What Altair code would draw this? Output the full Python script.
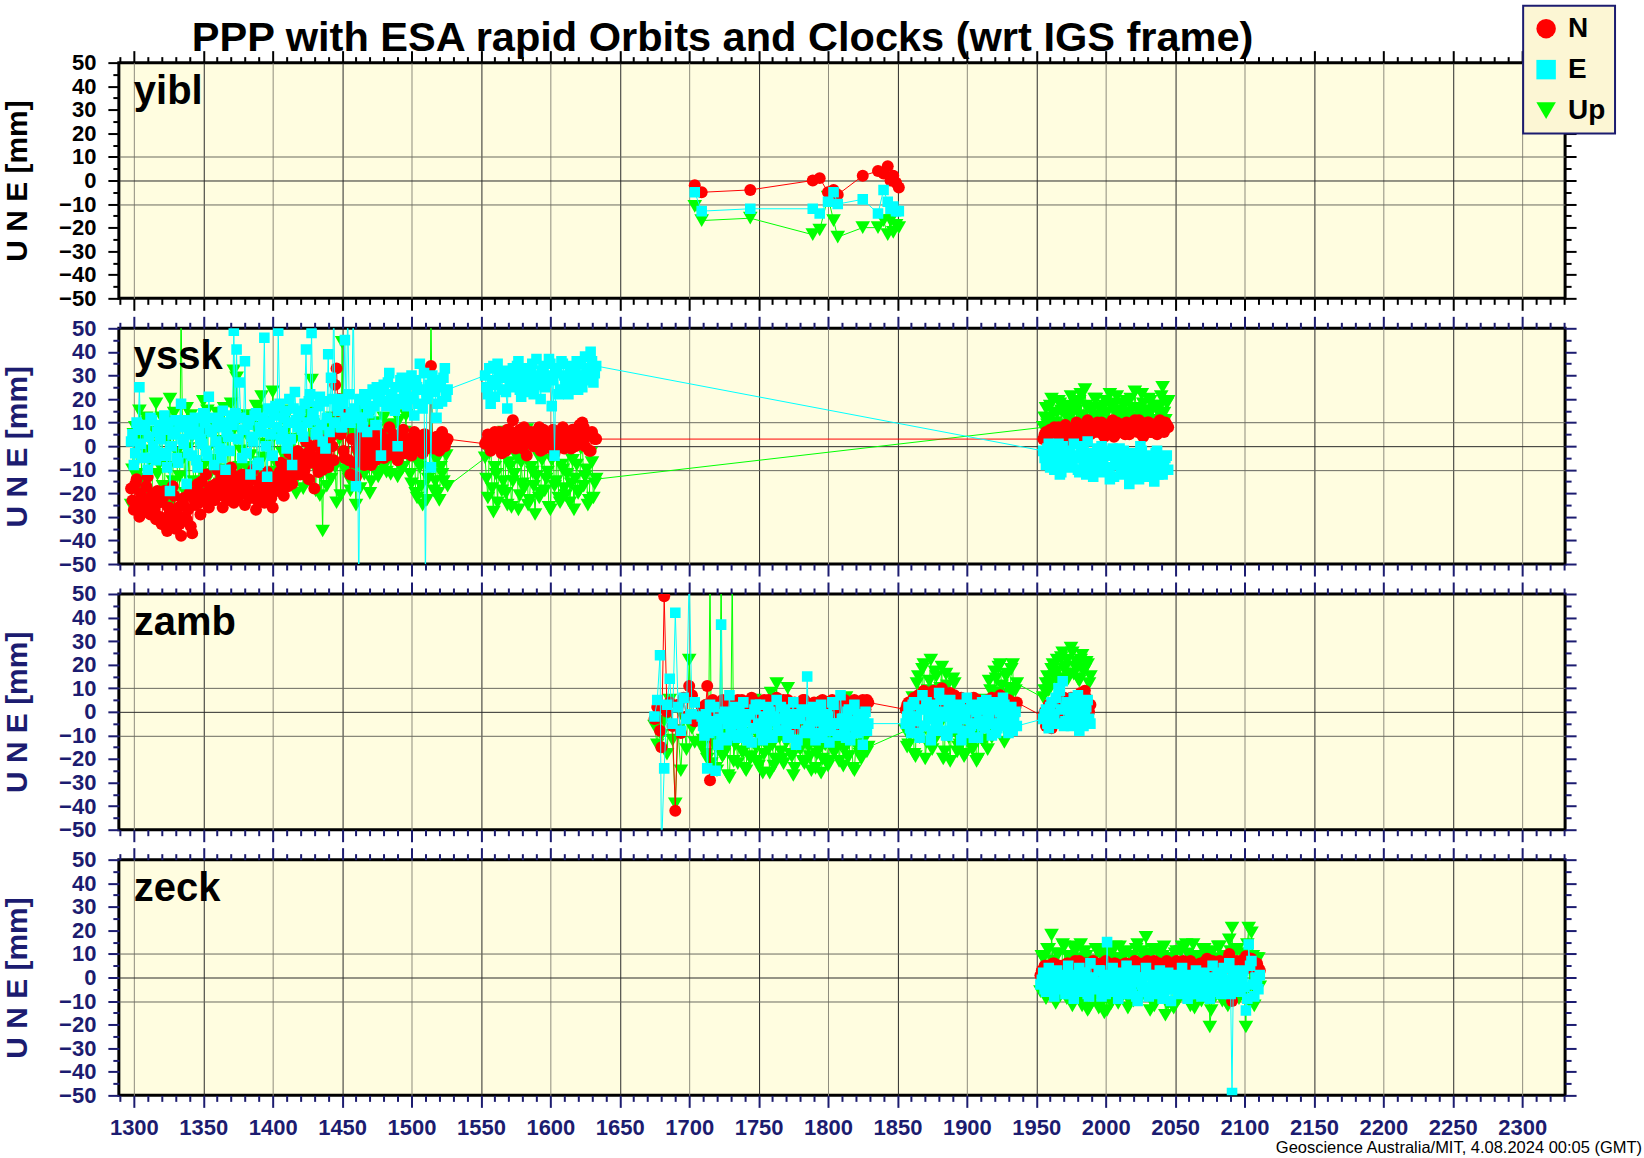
import altair as alt
import pandas as pd

# ---------------- data ----------------
components = ["N", "E", "Up"]
colors = ["#ff0000", "#00ffff", "#00ff00"]
shapes = ["circle", "square", "triangle-down"]
sizes = {"N": 144, "E": 112, "Up": 215}
x_ticks = list(range(1290, 2331, 10))
y_ticks = list(range(-50, 51, 5))
x_domain = [1289.2, 2330.9]
y_domain = [-50, 50]

# ---- yibl ----
yibl_t = [1704, 1709, 1744, 1789, 1794, 1800, 1804, 1807, 1825, 1836, 1840, 1843, 1845, 1847, 1849, 1851]
yibl_n = [-2, -5, -4, 0, 1, -5, -4, -6, 2, 4, 3, 6, 0, 2, -1, -3]
yibl_e = [-5, -13, -12, -12, -14, -9, -5, -10, -8, -14, -4, -9, -12, -11, -13, -13]
yibl_u = [-11, -17, -16, -23, -21, -7, -17, -24, -20, -20, -17, -23, -17, -22, -19, -20]

# ---- yssk: even-day epochs ----
yssk_t1 = [1298, 1300, 1302, 1304, 1306, 1308, 1310, 1312, 1314, 1316,
           1318, 1320, 1322, 1324, 1326, 1328, 1330, 1332, 1334, 1336,
           1338, 1340, 1342, 1344, 1346, 1348, 1350, 1352, 1354, 1356,
           1358, 1360, 1362, 1364, 1366, 1368, 1370, 1372, 1374, 1376,
           1378, 1380, 1382, 1384, 1386, 1388, 1390, 1392, 1394, 1396,
           1398, 1400, 1402, 1404, 1406, 1408, 1410, 1412, 1414, 1416,
           1418, 1420, 1422, 1424, 1426, 1428, 1430, 1432, 1434, 1436,
           1438, 1440, 1442, 1444, 1446, 1448, 1450, 1452, 1454, 1456,
           1458, 1460, 1462, 1464, 1466, 1468, 1470, 1472, 1474, 1476,
           1478, 1480, 1482, 1484, 1486, 1488, 1490, 1492, 1494, 1496,
           1498, 1500, 1502, 1504, 1506, 1508, 1510, 1512, 1514, 1516,
           1518, 1520, 1522, 1524, 1526,
           1553, 1555, 1557, 1559, 1561, 1563, 1565, 1567, 1569, 1571,
           1573, 1575, 1577, 1579, 1581, 1583, 1585, 1587, 1589, 1591,
           1593, 1595, 1597, 1599, 1601, 1603, 1605, 1607, 1609, 1611,
           1613, 1615, 1617, 1619, 1621, 1623, 1625, 1627, 1629, 1631,
           1633,
           1955, 1957, 1959, 1961, 1963, 1965, 1967, 1969, 1971, 1973,
           1975, 1977, 1979, 1981, 1983, 1985, 1987, 1989, 1991, 1993,
           1995, 1997, 1999, 2001, 2003, 2005, 2007, 2009, 2011, 2013,
           2015, 2017, 2019, 2021, 2023, 2025, 2027, 2029, 2031, 2033,
           2035, 2037, 2039, 2041, 2043, 2045]
yssk_n1 = [-18, -27, -14, -30, -22, -25, -13, -29, -20, -31,
           -24, -33, -19, -36, -28, -17, -35, -26, -38, -22,
           -31, -20, -37, -25, -16, -29, -21, -12, -26, -17,
           -23, -10, -19, -26, -14, -21, -9, -24, -16, -20,
           -12, -25, -17, -22, -10, -27, -15, -20, -24, -11,
           -19, -26, -13, -17, -7, -21, -12, -3, -16, -9,
           -2, -12, -6, 2, -14, -4, -18, -8, 3, -10,
           -1, -9, 4, -6, 33, 20, 8, -5, 14, -12,
           3, -13, -2, 6, -8, 1, -4, 7, -6, 2,
           5, -5, 1, 8, -3, 4, -6, 2, 7, -2,
           3, -4, 6, 0, 4, -3, 5, 1, 34, -1,
           4, -2, 6, 0, 3,
           1, 5, -2, 4, 0, 6, -3, 3, 7, 2,
           11, -1, 5, 2, 8, -4, 4, 1, 6, 3,
           -2, 7, 4, 0, 5, -3, 6, 2, 8, 1,
           4, -1, 6, 3, 9, 10, 0, 5, -2, 4,
           3,
           3, 6, 1, 5, 8, 2, 6, 4, 9, 3,
           7, 5, 10, 4, 8, 6, 11, 5, 7, 9,
           6, 10, 4, 8, 7, 11, 5, 9, 6, 8,
           10, 5, 7, 11, 6, 9, 4, 8, 10, 6,
           9, 5, 11, 7, 10, 8]
yssk_e1 = [2, -8, 10, 25, -5, 7, -10, 12, 0, -6,
           9, -3, 13, -9, -19, 5, 11, -7, 18, 1,
           -16, 8, -4, 12, -9, 3, 14, -2, 21, 6,
           -8, 11, -1, 15, -10, 4, 13, 49, 41, 27,
           -5, 36, 9, -12, 2, 14, -7, 6, 46, -13,
           10, -4, 17, 49, 3, 12, -1, 20, -8, 23,
           8, 15, 4, 41, 19, 48, 11, 6, 21, 2,
           -1, 39, 29, 62, 17, 20, 8, 45, 58, 10,
           62, -17, -64, 12, 22, 6, 16, 24, 9, 19,
           -4, 26, 17, 31, 21, 15, 0, 28, 18, 24,
           20, 30, 13, 25, 35, 16, -60, 22, -9, 28,
           12, 27, 19, 33, 24,
           30, 22, 18, 34, 26, 31, 24, 29, 16, 27,
           33, 25, 36, 21, 28, 32, 23, 35, 26, 30,
           20, 34, 27, 37, 17, -4, 31, 24, 35, 28,
           22, 33, 26, 36, 29, 25, 38, 32, 40, 27,
           34,
           -2, -8, 1, -6, -10, -3, -12, 0, -7, -4,
           -9, 1, -5, -11, -2, -8, 2, -6, -13, -3,
           -7, 0, -10, -4, -14, -1, -8, -5, -12, -2,
           -9, -16, -3, -7, -11, 0, -6, -13, -4, -9,
           -15, -2, -8, -12, -5, -10]
yssk_u1 = [-25, 5, -12, 15, -20, -2, 10, -28, 0, 18,
           -8, 12, -22, 3, 20, -15, 7, -27, 60, -5,
           16, -18, 4, -24, 9, -10, 19, -3, -21, 11,
           -6, 14, -16, 2, -12, 8, 18, 32, 29, -9,
           5, -19, 13, -4, -14, 17, -7, 21, 1, -17,
           10, 23, -11, 6, -20, 12, -6, 15, -15, 3,
           -13, 9, -18, 1, 14, 28, -9, 4, -21, -36,
           -8, 7, -14, 11, -24, 3, 44, -10, 13, -19,
           6, -25, -5, 15, -12, 8, -20, 2, 10, -13,
           -7, 12, -11, 4, -2, 9, -13, 1, -9, 13,
           -5, -16, 3, -22, -9, -25, 0, -14, 60, -19,
           -6, -23, -12, 2, -17,
           -5, -22, 4, -28, -12, -2, -19, 6, -25, -9,
           -15, 2, -27, -7, -18, 7, -23, -11, -29, -4,
           -20, 3, -14, -26, -6, -17, 5, -24, -10, -21,
           0, -16, -27, -8, -19, 4, -13, -25, -3, -22,
           -14,
           8, 16, 11, 20, 6, 14, 18, 9, 13, 17,
           21, 10, 15, 19, 12, 24, 8, 16, 13, 20,
           11, -7, 17, 14, 22, 9, 18, 13, 15, 10,
           19, 12, 16, 23, 8, 14, 18, 11, 20, 15,
           9, 17, 13, 25, 11, 19]

# ---- yssk: odd-day epochs ----
yssk_t2 = [1299, 1301, 1303, 1305, 1307, 1309, 1311, 1313, 1315, 1317,
           1319, 1321, 1323, 1325, 1327, 1329, 1331, 1333, 1335, 1337,
           1339, 1341, 1343, 1345, 1347, 1349, 1351, 1353, 1355, 1357,
           1359, 1361, 1363, 1365, 1367, 1369, 1371, 1373, 1375, 1377,
           1379, 1381, 1383, 1385, 1387, 1389, 1391, 1393, 1395, 1397,
           1399, 1401, 1403, 1405, 1407, 1409, 1411, 1413, 1415, 1417,
           1419, 1421, 1423, 1425, 1427, 1429, 1431, 1433, 1435, 1437,
           1439, 1441, 1443, 1445, 1447, 1449, 1451, 1453, 1455, 1457,
           1459, 1461, 1463, 1465, 1467, 1469, 1471, 1473, 1475, 1477,
           1479, 1481, 1483, 1485, 1487, 1489, 1491, 1493, 1495, 1497,
           1499, 1501, 1503, 1505, 1507, 1509, 1511, 1513, 1515, 1517,
           1519, 1521, 1523, 1525,
           1554, 1556, 1558, 1560, 1562, 1564, 1566, 1568, 1570, 1572,
           1574, 1576, 1578, 1580, 1582, 1584, 1586, 1588, 1590, 1592,
           1594, 1596, 1598, 1600, 1602, 1604, 1606, 1608, 1610, 1612,
           1614, 1616, 1618, 1620, 1622, 1624, 1626, 1628, 1630, 1632,
           1956, 1958, 1960, 1962, 1964, 1966, 1968, 1970, 1972, 1974,
           1976, 1978, 1980, 1982, 1984, 1986, 1988, 1990, 1992, 1994,
           1996, 1998, 2000, 2002, 2004, 2006, 2008, 2010, 2012, 2014,
           2016, 2018, 2020, 2022, 2024, 2026, 2028, 2030, 2032, 2034,
           2036, 2038, 2040, 2042, 2044]
yssk_n2 = [-23, -16, -26, -20, -28, -17, -24, -21, -27, -19,
           -30, -22, -34, -26, -31, -21, -29, -33, -24, -30,
           -27, -34, -22, -19, -24, -15, -20, -23, -18, -22,
           -16, -21, -13, -18, -23, -17, -20, -13, -22, -18,
           -20, -15, -21, -14, -19, -23, -18, -13, -17, -21,
           -22, -15, -19, -11, -14, -8, -17, -10, -6, -12,
           -8, -4, -10, -3, -7, 0, -5, -11, -2, -6,
           -4, -7, 0, 26, 15, 5, -2, 10, -6, 3,
           -7, -1, -5, 2, -3, 4, -8, 0, -3, 5,
           -1, 3, -4, 2, 5, -2, 1, 4, -3, 0,
           1, 4, -2, 3, 0, 5, -1, 2, 0, 3,
           1, -1, 4, 2,
           2, 4, -1, 6, 3, 1, 5, -2, 4, 6,
           0, 3, 7, -1, 5, 2, 6, 0, 3, 8,
           2, -1, 5, 3, 7, 1, 4, 6, -1, 5,
           3, 7, 0, 5, 2, 8, 4, -2, 6, 3,
           5, 2, 7, 4, 3, 8, 5, 7, 2, 6,
           4, 8, 6, 3, 9, 7, 5, 8, 6, 10,
           7, 5, 9, 6, 8, 4, 10, 7, 9, 5,
           8, 6, 9, 7, 11, 5, 8, 10, 6, 9,
           7, 10, 8, 6, 9]
yssk_e2 = [5, -3, 7, 1, 9, -5, 4, 11, -2, 6,
           3, 7, -4, 10, 0, 6, -5, 8, 3, 11,
           -3, 5, 9, -6, 6, 1, 10, -4, 7, 12,
           2, 8, -5, 10, 6, -2, 9, 14, 3, 12,
           7, -3, 11, 4, 13, -8, 8, 12, 0, 16,
           5, 13, 8, 18, 6, 15, 10, 3, 16, 11,
           13, 7, 18, 10, 22, 14, 5, 17, 9, 19,
           12, 6, 20, 10, 15, 8, 18, 12, 22, 14,
           16, 12, 20, 8, 18, 14, 22, 17, 25, 20,
           24, 19, 27, 22, 18, 25, 20, 29, 23, 17,
           26, 21, 28, 18, 24, 31, 20, 26, 30, 23,
           18, 25, 29, 21,
           25, 33, 28, 21, 35, 29, 32, 23, 31, 26,
           29, 34, 24, 30, 33, 27, 31, 22, 37, 29,
           32, 25, 30, 35, 28, 33, 22, 36, 30, 26,
           34, 29, 31, 24, 35, 30, 33, 28, 36, 31,
           -5, -1, -9, -3, -7, 1, -11, -4, -6, -2,
           -8, -4, -10, 0, -6, -12, -3, -9, -5, -1,
           -11, -6, -2, -9, -4, -13, -7, -1, -10, -5,
           -3, -12, -8, -6, -14, -2, -9, -5, -11, -7,
           -3, -12, -6, -9, -4]
yssk_u2 = [-10, 8, -18, 2, -14, 12, -6, -22, 6, -12,
           4, -17, 10, -9, -24, 14, -3, -13, 9, -20,
           -1, 13, -15, 7, -19, 2, -8, 15, -12, 5,
           -18, 9, -4, 16, -10, -22, 6, -13, 11, -2,
           12, -9, 3, -20, 8, -12, 15, -5, -16, 10,
           -14, 4, -8, 13, -3, -18, 8, -11, 2, -20,
           6, -4, 11, -15, -7, 9, -19, 3, -12, 7,
           -17, 2, 12, -9, 6, -21, -3, 9, -14, 4,
           -10, 10, -18, 1, -8, 12, -15, -4, 7, -11,
           5, -8, 9, -12, 3, -6, 11, -10, 6, -4,
           -12, 1, -20, -7, -17, -3, -23, -10, 2, -15,
           -20, -9, -15, -4,
           -14, -3, -18, -9, -24, -1, -15, -20, -7, -26,
           -12, -5, -21, -16, -2, -25, -9, -17, -13, -22,
           -6, -19, -11, -27, -4, -15, -22, -8, -18, -12,
           -24, -6, -14, -20, -1, -17, -10, -23, -7, -16,
           12, 9, 17, 14, 10, 19, 15, 7, 16, 12,
           14, 18, 9, 22, 13, 17, 11, 15, 20, 12,
           16, 14, 19, 10, 17, 15, 21, 13, 18, 11,
           14, 20, 12, 16, 10, 22, 15, 13, 19, 17,
           11, 16, 21, 14, 18]

# ---- zamb: first pass ----
zamb_t1 = [1675, 1677, 1679, 1680, 1682, 1684, 1686, 1688, 1690, 1692, 1694, 1696, 1698, 1700, 1702, 1704,
           1709, 1711, 1713, 1715, 1717, 1719, 1721, 1723, 1725, 1727,
           1729, 1731, 1733, 1735, 1737, 1739, 1741, 1743, 1745, 1747,
           1749, 1751, 1753, 1755, 1757, 1759, 1761, 1763, 1765, 1767,
           1769, 1771, 1773, 1775, 1777, 1779, 1781, 1783, 1785, 1787,
           1789, 1791, 1793, 1795, 1797, 1799, 1801, 1803, 1805, 1807,
           1809, 1811, 1813, 1815, 1817, 1819, 1821, 1823, 1825, 1827, 1829,
           1856, 1858, 1860, 1862, 1864, 1866, 1868, 1870, 1872, 1874,
           1876, 1878, 1880, 1882, 1884, 1886, 1888, 1890, 1892, 1894,
           1896, 1898, 1900, 1902, 1904, 1906, 1908, 1910, 1912, 1914,
           1916, 1918, 1920, 1922, 1924, 1926, 1928, 1930, 1932, 1934,
           1936,
           1955, 1957, 1959, 1961, 1963, 1965, 1967, 1969, 1971, 1973,
           1975, 1977, 1979, 1981, 1983, 1985, 1987, 1989]
zamb_n1 = [-3, 2, -8, -15, 49, 0, 4, -6, -42, 3, -9, 6, -2, 11, 7, -4,
           2, -4, 11, -29, 5, 1, -6, 4, -2, 3,
           -5, 2, -1, 5, -7, 0, 4, -3, 6, -6,
           1, -4, 3, -8, 5, -2, 2, 6, -5, 0,
           4, 5, -3, 1, -7, 3, -1, 5, -4, 2,
           -6, 0, 4, 1, -5, 3, -2, 5, -7, 1,
           4, -3, 2, -6, 0, 5, -4, 3, 5, 1, 4,
           1, 4, -3, 6, 2, -6, 5, 8, 3, -2,
           9, 6, 4, 10, 7, -1, 8, 3, 5, -4,
           6, 2, -8, 4, 1, -3, 5, 0, 3, -5,
           2, 6, -2, 4, 7, 1, -3, 5, 2, -1,
           4,
           -2, -6, 3, -7, 1, -4, 5, 0, -3, 2,
           6, -1, 4, 7, 2, 9, -2, 3]
zamb_e1 = [-2, 5, 24, -60, -24, 3, 14, -5, 42, 2, -8, 6, -3, 60, -1, 4,
           -2, -10, -24, 3, -8, -25, -14, 37, -1, -12,
           7, -5, 2, -11, -3, 4, -9, -1, -13, 1,
           -7, 3, -12, -4, 2, -10, -2, 5, -8, -3,
           1, -11, -5, 4, -14, -2, 0, -9, 15, -6,
           2, -12, -4, 3, -8, -1, -13, 4, -5, -10,
           7, -3, -11, 1, -6, 3, -9, -2, -14, 0, -5,
           -5, 2, -9, 4, -2, -11, 7, -6, 1, -12,
           3, -4, 8, -8, 0, -10, 5, -3, -7, 2,
           -12, -1, 6, -9, 3, -5, -11, 1, -6, 5,
           -2, -10, 4, -7, 0, 6, -4, -9, 2, -3,
           -6,
           -3, 1, -7, 4, -1, -5, 9, 13, -4, 2,
           -6, 6, 0, -8, 3, -2, 5, -5]
zamb_u1 = [-6, -14, 2, -10, -4, -18, 5, -12, -39, -8, -25, -3, -16, 22, -7, -13,
           -15, -8, -20, 60, -12, -24, -5, 60, -18, -10,
           -28, 60, -14, -22, 2, -17, -25, -9, -19, 5,
           -21, -12, -26, -6, -16, 8, -23, 12, -11, -20,
           -4, 10, -18, -27, -8, -15, 3, -22, -13, -19,
           -7, -24, -16, -26, 4, -12, -21, -9, -17, -3,
           -14, -23, 6, -19, -10, -25, -6, -18, -11, 2, -15,
           -8, -14, -4, -18, 12, -11, 18, -20, 9, 22,
           -13, 15, -6, 19, -17, 11, -21, 14, -9, -15,
           -5, -19, -12, 3, -16, -8, -20, -3, -13, -7,
           13, -11, 17, 8, 20, -4, 15, 10, 18, -2,
           12,
           6, 12, 9, 18, 15, 22, 11, 25, 19, 14,
           27, 16, 21, 13, 24, 18, 20, 15]

# ---- zamb: second pass ----
zamb_t2 = [1710, 1712, 1714, 1716, 1718, 1720, 1722, 1724, 1726, 1728,
           1730, 1732, 1734, 1736, 1738, 1740, 1742, 1744, 1746, 1748,
           1750, 1752, 1754, 1756, 1758, 1760, 1762, 1764, 1766, 1768,
           1770, 1772, 1774, 1776, 1778, 1780, 1782, 1784, 1786, 1788,
           1790, 1792, 1794, 1796, 1798, 1800, 1802, 1804, 1806, 1808,
           1810, 1812, 1814, 1816, 1818, 1820, 1822, 1824, 1826, 1828,
           1857, 1859, 1861, 1863, 1865, 1867, 1869, 1871, 1873, 1875,
           1877, 1879, 1881, 1883, 1885, 1887, 1889, 1891, 1893, 1895,
           1897, 1899, 1901, 1903, 1905, 1907, 1909, 1911, 1913, 1915,
           1917, 1919, 1921, 1923, 1925, 1927, 1929, 1931, 1933, 1935,
           1956, 1958, 1960, 1962, 1964, 1966, 1968, 1970, 1972, 1974,
           1976, 1978, 1980, 1982, 1984, 1986, 1988]
zamb_n2 = [0, 3, -2, 4, 1, -3, 2, 5, -1, 3,
           0, 4, -2, 2, 5, 1, -3, 3, 0, 4,
           2, -1, 5, 1, 3, -2, 4, 0, 2, 5,
           -1, 3, 1, 4, -2, 2, 5, 0, 3, 1,
           4, -1, 2, 5, 0, 3, 1, -2, 4, 2,
           0, 5, 1, 3, -1, 4, 2, 0, 3, 5,
           3, 0, 5, 2, 7, 4, 9, 6, 1, 8,
           5, 3, 8, 2, 6, 4, 0, 7, 3, -2,
           5, 1, 4, -1, 6, 2, -4, 3, 1, 5,
           -1, 4, 2, 6, 0, 3, 5, 1, 4, 2,
           0, -5, 2, -3, 4, -1, 3, 6, -2, 4,
           1, 5, 2, 8, 3, 6, 0]
zamb_e2 = [-6, -1, -9, -4, 2, -7, -3, -11, 0, -5,
           -8, -2, -10, 1, -6, -4, -12, -1, -7, 3,
           -5, -9, -2, -6, 0, -11, -4, -8, 2, -3,
           -7, -10, -1, -5, -12, -3, 1, -8, -6, -2,
           -9, -4, 0, -11, -6, -2, -8, 3, -5, -10,
           -3, -7, 0, -12, -4, -9, -1, -6, -3, -8,
           -2, -7, 3, -4, -9, 1, -6, 4, -3, -8,
           0, -5, 5, -2, -10, 2, -6, -1, -4, 3,
           -8, -3, 1, -6, -11, 0, -4, 4, -7, -2,
           2, -5, -9, 1, -3, 3, -6, -1, -8, 0,
           -1, -5, 2, -3, 6, 10, 1, -6, 4, -2,
           3, -4, 7, 0, -6, 2, -3]
zamb_u2 = [-12, -18, -7, -22, -14, -25, -10, -19, -16, -27,
           -9, -21, -13, -4, -17, -24, -11, -20, -6, -15,
           -23, -12, -18, -8, -26, -14, -20, -10, -17, -22,
           -13, -7, -19, -24, -11, -16, -21, -9, -15, -25,
           -12, -18, -6, -20, -14, -23, -10, -17, -13, -21,
           -8, -16, -19, -11, -24, -14, -9, -20, -12, -17,
           -15, -10, 6, -19, 15, -7, 20, -13, 13, -16,
           17, -9, 10, -20, 16, -11, -5, 12, -17, -14,
           -8, -18, -3, -15, -10, -21, -6, -12, 5, -16,
           9, -8, 14, 19, 11, -13, 16, 7, 20, 9,
           9, 15, 12, 20, 17, 14, 23, 18, 22, 16,
           25, 19, 14, 22, 17, 21, 12]

# ---- zeck: first pass ----
zeck_t1 = [1953, 1955, 1957, 1959, 1961, 1963, 1965, 1967, 1969, 1971,
           1973, 1975, 1977, 1979, 1981, 1983, 1985, 1987, 1989, 1991,
           1993, 1995, 1997, 1999, 2001, 2003, 2005, 2007, 2009, 2011,
           2013, 2015, 2017, 2019, 2021, 2023, 2025, 2027, 2029, 2031,
           2033, 2035, 2037, 2039, 2041, 2043, 2045, 2047, 2049, 2051,
           2053, 2055, 2057, 2059, 2061, 2063, 2065, 2067, 2069, 2071,
           2073, 2075, 2077, 2079, 2081, 2083, 2085, 2087, 2089, 2091,
           2093, 2095, 2097, 2099, 2101, 2103, 2105, 2107, 2109, 2111]
zeck_n1 = [1, 3, 5, 2, 4, 6, 2, 5, 3, 4,
           6, 3, 5, 2, 7, 4, 6, 3, 5, 7,
           4, 2, 6, 3, 5, 1, 4, 6, 3, 5,
           2, 6, 4, 3, 7, 5, 2, 6, 4, 5,
           3, 7, 4, 6, 2, 5, 3, 6, 4, 7,
           5, 3, 6, 2, 7, 4, 5, 3, 6, 4,
           8, 5, 7, 3, 6, 4, 5, 7, 10, -10,
           6, 4, 7, 3, 9, 5, 8, 4, 6, 3]
zeck_e1 = [-3, 2, -6, 4, -1, -8, 3, -4, 1, -7,
           5, -2, -9, 0, 4, -5, 2, -7, 6, -1,
           -4, 3, -8, 1, 15, -6, 4, -3, -9, 2,
           -5, 5, -1, -7, 3, -10, 0, -4, 4, -8,
           1, -6, -2, 3, -9, -5, 2, -10, -3, 0,
           -7, 4, -4, -9, 1, -6, 3, -2, -8, 2,
           -5, -9, 5, -3, 1, -7, 4, -1, 6, -49,
           -4, 2, -6, 3, -14, 14, 7, -8, -3, 1]
zeck_u1 = [-6, 8, -9, 12, 18, -4, 10, -8, 14, -3,
           9, -10, 13, -5, 8, -12, 11, -14, 7, -6,
           12, -13, 9, -15, -14, 10, -8, 13, -11, 8,
           -7, 11, -10, 9, -5, 14, -9, 8, 17, -6,
           10, -12, 12, -8, 9, -16, -11, 8, -13, 11,
           -9, 13, -6, 10, -12, 14, -7, 9, -10, 12,
           -5, -21, 11, -8, 13, -6, 9, -11, 16, 21,
           -9, 12, -7, 10, -21, 21, 19, -12, 8, -4]

# ---- zeck: second pass ----
zeck_t2 = [1954, 1956, 1958, 1960, 1962, 1964, 1966, 1968, 1970, 1972,
           1974, 1976, 1978, 1980, 1982, 1984, 1986, 1988, 1990, 1992,
           1994, 1996, 1998, 2000, 2002, 2004, 2006, 2008, 2010, 2012,
           2014, 2016, 2018, 2020, 2022, 2024, 2026, 2028, 2030, 2032,
           2034, 2036, 2038, 2040, 2042, 2044, 2046, 2048, 2050, 2052,
           2054, 2056, 2058, 2060, 2062, 2064, 2066, 2068, 2070, 2072,
           2074, 2076, 2078, 2080, 2082, 2084, 2086, 2088, 2090, 2092,
           2094, 2096, 2098, 2100, 2102, 2104, 2106, 2108, 2110]
zeck_n2 = [3, 5, 2, 4, 6, 3, 5, 2, 4, 6,
           3, 5, 7, 4, 2, 5, 6, 4, 3, 5,
           6, 3, 5, 7, 2, 4, 6, 3, 5, 4,
           6, 3, 5, 2, 4, 6, 5, 3, 7, 4,
           5, 2, 6, 4, 3, 7, 5, 4, 6, 3,
           5, 7, 4, 6, 3, 5, 2, 6, 4, 7,
           3, 6, 5, 4, 7, 3, 6, 8, 5, 4,
           7, 5, 3, 6, 4, 8, 5, 6, 4]
zeck_e2 = [-1, -5, 1, -3, -6, 2, -2, -5, 0, -4,
           -7, 1, -3, -6, 2, -1, -4, -8, 0, -2,
           -5, 3, -3, -7, 0, -2, -6, 1, -4, -1,
           -7, 2, -5, -2, -8, 0, -3, -6, 1, -4,
           -2, -7, 0, -4, -8, -1, -5, 1, -3, -6,
           -2, -5, 0, -4, -7, -1, -3, -6, 1, -2,
           -5, -3, 0, -6, -2, 2, -4, -1, -7, 3,
           -2, -6, 0, -4, -9, 5, -3, 0, -5]
zeck_u2 = [9, -5, 12, -8, 7, -11, 10, -6, 13, -9,
           8, -12, 11, -4, 14, -10, 9, -13, 7, -8,
           11, -12, 10, -6, 12, -11, 8, -9, 13, -7,
           10, -13, 9, -10, 12, -8, 11, -5, 9, -14,
           12, -9, 10, -7, 13, -11, 8, -12, 10, -6,
           11, -8, 14, -10, 9, -13, 7, -9, 12, -6,
           10, -14, 8, -7, 13, -10, 9, -12, 11, -5,
           12, -9, 10, -7, 14, -11, 9, -6, 8]

stations = [
    ("yibl", [yibl_t], [yibl_n], [yibl_e], [yibl_u]),
    ("yssk", [yssk_t1, yssk_t2], [yssk_n1, yssk_n2], [yssk_e1, yssk_e2], [yssk_u1, yssk_u2]),
    ("zamb", [zamb_t1, zamb_t2], [zamb_n1, zamb_n2], [zamb_e1, zamb_e2], [zamb_u1, zamb_u2]),
    ("zeck", [zeck_t1, zeck_t2], [zeck_n1, zeck_n2], [zeck_e1, zeck_e2], [zeck_u1, zeck_u2]),
]

TITLE = "PPP with ESA rapid Orbits and Clocks (wrt IGS frame)"
FOOTER = "Geoscience Australia/MIT, 4.08.2024 00:05 (GMT)"
YTITLE = "U N E [mm]"

# ---------------- styling ----------------
W, H = 1448, 236
FONT = "Liberation Sans"
NAVY = "#1c1c70"
BG = "#fffde0"
col = dict(zip(components, colors))
shp = dict(zip(components, shapes))

major_x = "datum.value % 50 === 0"
major_y = "datum.value % 10 === 0"


def build(name, tl, nl, el, ul, idx):
    ink = "black" if idx == 0 else NAVY
    last = idx == 3
    frames = []
    for t, n, e, u in zip(tl, nl, el, ul):
        for arr in (n, e, u):
            assert len(arr) == len(t), (name, len(t), len(arr))
        for c, vals in (("Up", u), ("N", n), ("E", e)):
            frames.append(pd.DataFrame({"t": t, "v": vals, "comp": c}))
    df = pd.concat(frames, ignore_index=True)
    order = {"Up": 0, "N": 1, "E": 2}
    df["o"] = df["comp"].map(order)
    df = df.sort_values(["o", "t"], kind="stable").reset_index(drop=True)

    xs = alt.Scale(domain=x_domain, nice=False, zero=False)
    ys = alt.Scale(domain=y_domain, nice=False, zero=False)

    xaxis = alt.Axis(
        orient="bottom", values=x_ticks, title=None, domain=False,
        grid=True,
        gridColor={"condition": {"test": "datum.value % 100 === 0", "value": "#8e8c7c"}, "value": "#2a2a2a"},
        gridOpacity={"condition": {"test": major_x, "value": 1}, "value": 0},
        gridWidth=1,
        tickColor=ink, tickWidth=2,
        tickSize={"condition": {"test": major_x, "value": 12}, "value": 6},
        labels=last, labelExpr=f"{major_x} ? datum.label : ''", format="d",
        labelFont=FONT, labelFontSize=22, labelFontWeight="bold", labelColor=NAVY,
        labelPadding=10, labelOverlap=False, labelFlush=False, labelBound=False,
    )
    yaxis = alt.Axis(
        orient="left", values=y_ticks, domain=False,
        grid=True,
        gridColor={"condition": {"test": "datum.value === 0", "value": "#2a2a2a"}, "value": "#6a6a60"},
        gridOpacity={"condition": {"test": "datum.value === 0 || datum.value === 10 || datum.value === -10", "value": 1}, "value": 0},
        gridWidth=1,
        tickColor=ink, tickWidth=2,
        tickSize={"condition": {"test": major_y, "value": 11}, "value": 6},
        labelExpr=f"{major_y} ? datum.label : ''",
        labelFont=FONT, labelFontSize=22, labelFontWeight="bold", labelColor=ink,
        labelPadding=12, labelOverlap=False, labelFlush=False, labelBound=False,
        title=YTITLE, titleFont=FONT, titleFontSize=30, titleFontWeight="bold",
        titleColor=ink, titleAngle=270, titleX=-92, titleY=H / 2,
        titleAlign="center", titleBaseline="alphabetic",
    )
    xtop = alt.Axis(orient="top", values=x_ticks, title=None, domain=False, grid=False,
                    labels=False, tickColor=ink, tickWidth=2,
                    tickSize={"condition": {"test": major_x, "value": 12}, "value": 6})
    yright = alt.Axis(orient="right", values=y_ticks, title=None, domain=False, grid=False,
                      labels=False, tickColor=ink, tickWidth=2,
                      tickSize={"condition": {"test": major_y, "value": 11}, "value": 6})

    ex = alt.X("t:Q", scale=xs, axis=xaxis)
    ey = alt.Y("v:Q", scale=ys, axis=yaxis)
    base = alt.Chart(df)

    legend = alt.Legend(
        orient="none", legendX=1406, legendY=-57, title=None,
        fillColor="#fcf6d4", strokeColor=NAVY, padding=9,
        labelFont=FONT, labelFontSize=28, labelFontWeight="bold", labelColor="black",
        labelOffset=8, rowPadding=13, symbolSize=380, symbolStrokeWidth=0,
        symbolOpacity=1, labelExpr="datum.label + '  '",
    )
    cscale = alt.Scale(domain=components, range=colors)
    sscale = alt.Scale(domain=components, range=shapes)

    layers = []
    for c in ["Up", "N", "E"]:
        sub = base.transform_filter(alt.datum.comp == c)
        layers.append(sub.mark_line(color=col[c], strokeWidth=1, clip=True).encode(x=ex, y=ey))
        pm = sub.mark_point(filled=True, shape=shp[c], size=sizes[c], opacity=1,
                            strokeWidth=0, clip=True)
        if idx == 0:
            layers.append(pm.encode(
                x=ex, y=ey,
                color=alt.Color("comp:N", scale=cscale, legend=legend),
                shape=alt.Shape("comp:N", scale=sscale, legend=legend),
            ))
        else:
            layers.append(pm.encode(x=ex, y=ey, color=alt.value(col[c])))

    label = alt.Chart(pd.DataFrame({"s": [name]})).mark_text(
        align="left", baseline="alphabetic", font=FONT, fontSize=40,
        fontWeight="bold", color="black",
    ).encode(x=alt.value(15), y=alt.value(41), text="s:N")
    layers.append(label)

    if idx == 0:
        layers.append(alt.Chart(pd.DataFrame({"s": [TITLE]})).mark_text(
            align="center", baseline="alphabetic", font=FONT, fontSize=41.6,
            fontWeight="bold", color="black",
        ).encode(x=alt.value(604.5), y=alt.value(-12), text="s:N"))
        # invisible page-corner anchor: fixes the page origin of the layout
        layers.append(alt.Chart(pd.DataFrame({"a": [0]})).mark_rule(
            color="white", strokeWidth=1, opacity=0.01,
        ).encode(x=alt.value(-116.5), x2=alt.value(-116.5),
                 y=alt.value(-59.5), y2=alt.value(-58.5)))
    if last:
        layers.append(alt.Chart(pd.DataFrame({"s": [FOOTER]})).mark_text(
            align="right", baseline="alphabetic", font=FONT, fontSize=16.5,
            color="black",
        ).encode(x=alt.value(1525), y=alt.value(294), text="s:N"))

    main = alt.layer(*layers)
    axis_layer = alt.Chart(pd.DataFrame({"t": [1300], "v": [0]})).mark_point(opacity=0).encode(
        x=alt.X("t:Q", scale=xs, axis=xtop),
        y=alt.Y("v:Q", scale=ys, axis=yright),
    )
    return alt.layer(main, axis_layer).resolve_axis(x="independent", y="independent").properties(width=W, height=H)


panels = [build(s[0], s[1], s[2], s[3], s[4], i) for i, s in enumerate(stations)]

chart = alt.vconcat(*panels, spacing=30, bounds="flush").resolve_scale(
    color="independent", shape="independent"
).properties(
    padding={"left": 0, "top": 0, "right": 0, "bottom": 0},
    background="white",
).configure_view(
    stroke="black", strokeWidth=3, fill=BG
).configure_legend(strokeWidth=2)

chart.save("out.html", embed_options={"renderer": "svg", "actions": False})
